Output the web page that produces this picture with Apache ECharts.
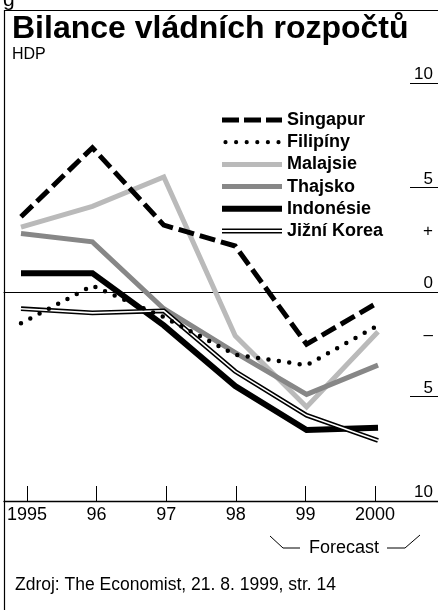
<!DOCTYPE html>
<html><head><meta charset="utf-8">
<script src="https://cdn.jsdelivr.net/npm/echarts@6/dist/echarts.min.js"></script>
<style>html,body{margin:0;padding:0;background:#fff}#c{width:438px;height:610px}</style>
</head><body><div id="c"></div>
<script>
// ---- data ----
const years = [1995, 1996, 1997, 1998, 1999, 2000];
const yearLabels = ['1995', '96', '97', '98', '99', '2000'];
const singapur  = [3.6, 6.9, 3.2, 2.2, -2.5, -0.5];
const filipiny  = [-1.5, 0.3, -1.2, -3.0, -3.5, -1.6];
const malajsie  = [3.1, 4.1, 5.5, -2.1, -5.5, -1.9];
const thajsko   = [2.8, 2.4, -0.8, -2.9, -4.9, -3.5];
const indonesie = [0.9, 0.9, -1.6, -4.5, -6.6, -6.5];
const jizniKorea = [-0.8, -1.0, -0.9, -3.8, -5.9, -7.1];
const yTickValues = [10, 5, -5];
const yLabelValues = [10, 5, 2.5, 0, -2.5, -5, -10];
const yLabelTexts = ['10', '5', '+', '0', '\u2013', '5', '10'];

const FONT = '"Liberation Sans", Arial, Helvetica, sans-serif';
const pairs = arr => years.map((y, i) => [y, arr[i]]);

// legend icon paths (bounding box 60 x 8)
function rect(x1, y1, x2, y2) { return `M${x1},${y1}H${x2}V${y2}H${x1}Z`; }
function wrap(p) { return 'path://M0,0' + p + 'M60,8'; }
let dots = '';
for (let i = 0; i < 6; i++) {
  const cx = 3.5 + i * 10.6, r = 2.1;
  dots += `M${cx - r},4A${r},${r} 0 1 0 ${cx + r},4A${r},${r} 0 1 0 ${cx - r},4Z`;
}
const icons = {
  'Singapur': wrap(rect(0, 1.5, 17, 6.5) + rect(22, 1.5, 39, 6.5) + rect(44, 1.5, 60, 6.5)),
  'Filipíny': wrap(dots),
  'Malajsie': wrap(rect(0, 1.5, 60, 6.5)),
  'Thajsko': wrap(rect(0, 1.5, 60, 6.5)),
  'Indonésie': wrap(rect(0, 1, 60, 7)),
  'Jižní Korea': wrap(rect(0, 1.5, 60, 3.1) + rect(0, 4.9, 60, 6.5))
};
const legendNames = ['Singapur', 'Filipíny', 'Malajsie', 'Thajsko', 'Indonésie', 'Jižní Korea'];

const base = { type: 'line', xAxisIndex: 0, yAxisIndex: 0, symbol: 'none', showSymbol: false, silent: true };
function ser(name, data, color, width, extra) {
  return Object.assign({}, base, {
    name, data: pairs(data),
    itemStyle: { color },
    lineStyle: Object.assign({ color, width, join: 'miter', cap: 'butt' }, extra || {})
  });
}

const chart = echarts.init(document.getElementById('c'), null, { renderer: 'canvas' });
chart.setOption({
  animation: false,
  backgroundColor: '#fff',
  textStyle: { fontFamily: FONT },
  title: {
    text: 'Bilance vládních rozpočtů', subtext: 'HDP',
    left: 12, top: 13, padding: 0, itemGap: 2,
    textStyle: { fontSize: 32, fontWeight: 'bold', color: '#000', fontFamily: FONT },
    subtextStyle: { fontSize: 16, color: '#000', fontFamily: FONT }
  },
  legend: {
    orient: 'vertical', left: 222, top: 110, padding: 0,
    itemWidth: 60, itemHeight: 8, itemGap: 2.2,
    selectedMode: false,
    itemStyle: { borderWidth: 0 },
    data: legendNames.map(n => ({ name: n, icon: icons[n] })),
    textStyle: { fontSize: 18, fontWeight: 'bold', color: '#000', lineHeight: 20, fontFamily: FONT }
  },
  grid: { left: 4, right: 0, top: 83, bottom: 109 },
  xAxis: [
    {
      type: 'value', min: 1994.762, max: 2000.84,
      axisLine: { show: true, onZero: true, lineStyle: { color: '#000', width: 1 } },
      axisTick: { show: false }, axisLabel: { show: false }, splitLine: { show: false }
    },
    {
      type: 'value', position: 'bottom', min: 1994.6695, max: 2000.905,
      axisLine: { show: true, onZero: false, lineStyle: { color: '#000', width: 1.3 } },
      axisTick: { show: true, inside: true, length: 15, customValues: years, lineStyle: { color: '#000', width: 1 } },
      axisLabel: {
        customValues: years, margin: 5, fontSize: 18, color: '#000', fontFamily: FONT,
        formatter: v => yearLabels[years.indexOf(Math.round(v))]
      },
      splitLine: { show: false }
    }
  ],
  yAxis: {
    type: 'value', position: 'right', min: -10, max: 10, interval: 5,
    axisLine: { show: false },
    axisTick: { show: true, inside: true, length: 28, customValues: yTickValues, lineStyle: { color: '#000', width: 1 } },
    axisLabel: {
      inside: true, customValues: yLabelValues, margin: 5, fontSize: 17, color: '#000',
      verticalAlign: 'bottom', fontFamily: FONT,
      formatter: v => yLabelTexts[yLabelValues.indexOf(v)]
    },
    splitLine: { show: false }
  },
  series: [
    ser('Malajsie', malajsie, '#bababa', 5),
    ser('Thajsko', thajsko, '#878787', 5),
    ser('Indonésie', indonesie, '#000', 6),
    ser('Jižní Korea', jizniKorea, '#000', 4.8),
    ser('Jižní Korea (vnitřek)', jizniKorea, '#fff', 1.6),
    ser('Filipíny', filipiny, '#000', 4.5, { type: [0, 10.5], cap: 'round' }),
    ser('Singapur', singapur, '#000', 5, { type: [16, 6] })
  ],
  graphic: [
    { type: 'line', silent: true, shape: { x1: 4, y1: 10.5, x2: 438, y2: 10.5 }, style: { stroke: '#000', lineWidth: 1.2 } },
    { type: 'line', silent: true, shape: { x1: 4.5, y1: 10, x2: 4.5, y2: 610 }, style: { stroke: '#000', lineWidth: 1.2 } },
    { type: 'text', silent: true, x: 3, y: 11, style: { text: 'g', fontSize: 21, fill: '#000', fontFamily: FONT, verticalAlign: 'bottom' } },
    { type: 'polyline', silent: true, shape: { points: [[270, 536], [283, 548], [300, 548]] }, style: { stroke: '#000', lineWidth: 1, fill: null } },
    { type: 'text', silent: true, x: 344, y: 548, style: { text: 'Forecast', fontSize: 18, fill: '#000', fontFamily: FONT, align: 'center', verticalAlign: 'middle' } },
    { type: 'polyline', silent: true, shape: { points: [[387, 548], [405, 548], [420, 535]] }, style: { stroke: '#000', lineWidth: 1, fill: null } },
    { type: 'text', silent: true, x: 15, y: 585, style: { text: 'Zdroj: The Economist, 21. 8. 1999, str. 14', fontSize: 17.5, fill: '#000', fontFamily: FONT, verticalAlign: 'middle' } }
  ]
});
</script></body></html>
